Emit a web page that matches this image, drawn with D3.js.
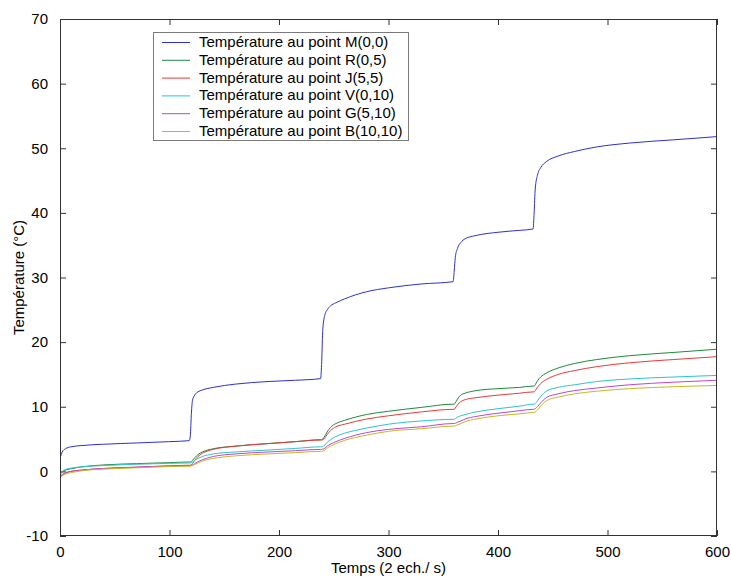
<!DOCTYPE html>
<html>
<head>
<meta charset="utf-8">
<script src="https://cdn.jsdelivr.net/npm/d3@7/dist/d3.min.js"></script>
<style>
  html, body { margin: 0; padding: 0; background: #ffffff; }
  svg { display: block; font-family: "Liberation Sans", Arial, sans-serif; }
</style>
</head>
<body>
<svg id="chart" width="731" height="578"></svg>
<script>
// Sample index (2 samples per second)
const time = [0, 2, 5, 10, 20, 40, 70, 100,
  118, 119, 120, 121, 123, 126, 130,
  140, 160, 190, 215, 238,
  239, 240, 242, 244, 247, 252, 260,
  280, 300, 330, 359,
  360, 361, 363, 366, 370, 380,
  400, 420, 432,
  433, 434, 436, 439, 444, 455,
  470, 490, 520, 560, 600];

// Temperatures (°C) at each measurement point
const tempM = [2.0, 3.0, 3.5, 3.8, 4.0, 4.2, 4.4, 4.6,
  4.75, 5.5, 9.0, 11.0, 11.8, 12.3, 12.6,
  13.0, 13.5, 13.9, 14.1, 14.35,
  17.0, 22.0, 24.3, 25.0, 25.6, 26.1, 26.7,
  27.8, 28.4, 29.0, 29.35,
  31.0, 33.1, 34.5, 35.4, 36.0, 36.5,
  37.0, 37.3, 37.5,
  40.0, 43.7, 45.8, 47.0, 47.9, 48.8,
  49.5, 50.2, 50.8, 51.3, 51.8];

const tempR = [-0.5, -0.1, 0.2, 0.4, 0.7, 1.0, 1.2, 1.35,
  1.45, 1.45, 1.5, 1.7, 2.1, 2.6, 3.0,
  3.5, 3.9, 4.3, 4.6, 4.9,
  4.9, 5.0, 5.5, 6.1, 6.8, 7.4, 7.9,
  8.8, 9.3, 9.9, 10.4,
  10.4, 10.6, 11.2, 11.8, 12.1, 12.5,
  12.8, 13.0, 13.2,
  13.2, 13.4, 14.0, 14.6, 15.2, 16.0,
  16.7, 17.3, 17.9, 18.4, 18.9];

const tempJ = [-1.0, -0.6, -0.3, 0.0, 0.2, 0.45, 0.65, 0.85,
  0.95, 0.95, 1.0, 1.2, 1.7, 2.3, 2.8,
  3.4, 3.9, 4.3, 4.6, 4.85,
  4.85, 4.9, 5.2, 5.7, 6.3, 6.9, 7.3,
  8.1, 8.6, 9.2, 9.6,
  9.6, 9.8, 10.3, 10.8, 11.1, 11.4,
  11.8, 12.1, 12.3,
  12.3, 12.5, 13.0, 13.6, 14.2, 15.0,
  15.6, 16.2, 16.8, 17.3, 17.75];

const tempV = [-0.3, 0.0, 0.3, 0.5, 0.7, 0.9, 1.1, 1.25,
  1.3, 1.3, 1.35, 1.45, 1.7, 2.0, 2.3,
  2.7, 3.0, 3.3, 3.55, 3.8,
  3.8, 3.85, 4.1, 4.5, 4.9, 5.4, 5.9,
  6.7, 7.3, 7.8, 8.05,
  8.05, 8.15, 8.4, 8.6, 8.8, 9.2,
  9.7, 10.1, 10.4,
  10.4, 10.5, 10.9, 11.6, 12.4, 13.0,
  13.4, 13.9, 14.3, 14.6, 14.85];

const tempG = [-0.8, -0.5, -0.2, 0.0, 0.2, 0.45, 0.65, 0.85,
  0.9, 0.9, 0.95, 1.0, 1.2, 1.5, 1.8,
  2.3, 2.7, 3.0, 3.2, 3.4,
  3.4, 3.45, 3.6, 3.9, 4.2, 4.6, 5.1,
  6.0, 6.5, 6.9, 7.4,
  7.4, 7.45, 7.6, 7.8, 8.1, 8.5,
  9.0, 9.4, 9.6,
  9.6, 9.7, 10.0, 10.6, 11.4, 12.0,
  12.5, 12.9, 13.4, 13.8, 14.1];

const tempB = [-1.0, -0.7, -0.4, -0.2, 0.1, 0.35, 0.55, 0.75,
  0.8, 0.8, 0.85, 0.9, 1.05, 1.3, 1.6,
  2.0, 2.4, 2.7, 2.9, 3.1,
  3.1, 3.15, 3.3, 3.6, 3.9, 4.3, 4.8,
  5.6, 6.2, 6.6, 7.0,
  7.0, 7.05, 7.2, 7.4, 7.7, 8.1,
  8.6, 8.9, 9.1,
  9.1, 9.2, 9.5, 10.1, 10.9, 11.5,
  12.0, 12.4, 12.8, 13.1, 13.3];

const seriesNames = [
  "Température au point M(0,0)",
  "Température au point R(0,5)",
  "Température au point J(5,5)",
  "Température au point V(0,10)",
  "Température au point G(5,10)",
  "Température au point B(10,10)"
];
const seriesValues = [tempM, tempR, tempJ, tempV, tempG, tempB];
const seriesColors = ["#2f2fd0", "#1e8a3c", "#e83a3a", "#2ec4c8", "#c046c8", "#c4b826"];

const xTicks = [0, 100, 200, 300, 400, 500, 600];
const yTicks = [-10, 0, 10, 20, 30, 40, 50, 60, 70];

const xLabel = "Temps (2 ech./ s)";
const yLabel = "Température (°C)";

// Layout
const plot = { left: 60, top: 19, right: 717, bottom: 536 };
const svg = d3.select("#chart");
const axisColor = "#333333";
const tickLen = 6;

const x = d3.scaleLinear().domain([0, 600]).range([plot.left, plot.right]);
const y = d3.scaleLinear().domain([-10, 70]).range([plot.bottom, plot.top]);

svg.append("defs").append("clipPath").attr("id", "plot-clip")
  .append("rect")
  .attr("x", plot.left).attr("y", plot.top)
  .attr("width", plot.right - plot.left).attr("height", plot.bottom - plot.top);

// Axes: inward ticks on all four sides, plain hyphen for negatives
const fontSize = 15;
const plain = d => String(d);
const bottomAxis = d3.axisBottom(x).tickValues(xTicks).tickFormat(plain).tickSizeInner(-tickLen).tickSizeOuter(0).tickPadding(10);
const topAxis = d3.axisTop(x).tickValues(xTicks).tickSizeInner(-tickLen).tickSizeOuter(0).tickFormat("");
const leftAxis = d3.axisLeft(y).tickValues(yTicks).tickFormat(plain).tickSizeInner(-tickLen).tickSizeOuter(0).tickPadding(12);
const rightAxis = d3.axisRight(y).tickValues(yTicks).tickSizeInner(-tickLen).tickSizeOuter(0).tickFormat("");

function styleAxis(g) {
  g.select(".domain").remove();
  g.selectAll(".tick line").attr("stroke", axisColor);
  g.selectAll(".tick text").attr("fill", "#000").style("font-size", fontSize + "px")
    .style("font-family", "\"Liberation Sans\", Arial, sans-serif");
}

svg.append("g").attr("transform", `translate(0,${plot.bottom})`).call(bottomAxis).call(styleAxis);
svg.append("g").attr("transform", `translate(0,${plot.top})`).call(topAxis).call(styleAxis);
svg.append("g").attr("transform", `translate(${plot.left},0)`).call(leftAxis).call(styleAxis);
svg.append("g").attr("transform", `translate(${plot.right},0)`).call(rightAxis).call(styleAxis);

// Series lines
const line = d3.line()
  .x((d, i) => x(time[i]))
  .y(d => y(d))
  .curve(d3.curveMonotoneX);

const lines = svg.append("g").attr("clip-path", "url(#plot-clip)");
seriesValues.forEach((vals, k) => {
  lines.append("path")
    .datum(vals)
    .attr("fill", "none")
    .attr("stroke", seriesColors[k])
    .attr("stroke-width", 1)
    .attr("d", line);
});

// Axes box
svg.append("rect")
  .attr("x", plot.left + 0.5).attr("y", plot.top + 0.5)
  .attr("width", plot.right - plot.left - 1).attr("height", plot.bottom - plot.top - 1)
  .attr("fill", "none").attr("stroke", axisColor).attr("stroke-width", 1);

// Axis titles
svg.append("text")
  .attr("x", (plot.left + plot.right) / 2).attr("y", 573)
  .attr("text-anchor", "middle")
  .style("font-size", fontSize + "px")
  .text(xLabel);

svg.append("text")
  .attr("transform", `translate(24,${(plot.top + plot.bottom) / 2}) rotate(-90)`)
  .attr("text-anchor", "middle")
  .style("font-size", fontSize + "px")
  .text(yLabel);

// Legend
const legend = svg.append("g");
const lg = { x: 153.5, y: 32.5, w: 255, h: 108, row: 17.8, first: 42 };
legend.append("rect")
  .attr("x", lg.x).attr("y", lg.y).attr("width", lg.w).attr("height", lg.h)
  .attr("fill", "#ffffff").attr("stroke", "#7a7a7a").attr("stroke-width", 1);

seriesNames.forEach((name, k) => {
  const cy = lg.first + k * lg.row;
  legend.append("line")
    .attr("x1", 162).attr("x2", 190).attr("y1", cy + 0.5).attr("y2", cy + 0.5)
    .attr("stroke", seriesColors[k]).attr("stroke-width", 1);
  legend.append("text")
    .attr("x", 199).attr("y", cy + 5)
    .style("font-size", fontSize + "px")
    .text(name);
});
</script>
</body>
</html>
